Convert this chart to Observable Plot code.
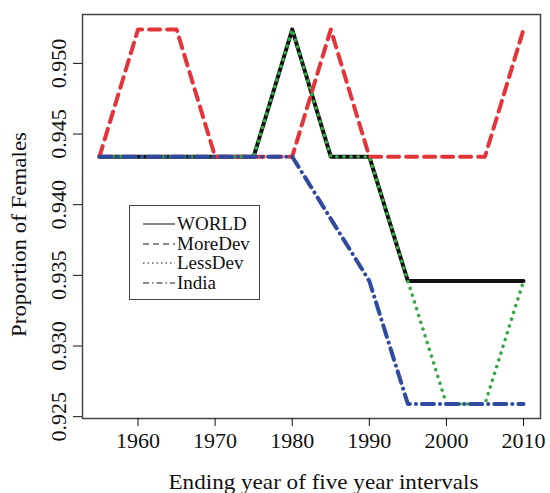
<!DOCTYPE html>
<html>
<head>
<meta charset="utf-8">
<script src="https://cdn.jsdelivr.net/npm/d3@7"></script>
<script src="https://cdn.jsdelivr.net/npm/@observablehq/plot@0.6"></script>
<style>
  html, body { margin: 0; padding: 0; background: #fff; }
  #wrap { position: relative; width: 550px; height: 493px; font-family: "Liberation Serif", "DejaVu Serif", serif; }
  #wrap svg text { font-family: "Liberation Serif", "DejaVu Serif", serif; }
  #legend { position: absolute; left: 129px; top: 205px; width: 131px; height: 95px; border: 1.5px solid #444; box-sizing: border-box; background: #fff; }
  #legend .row { position: absolute; left: 12px; height: 18px; line-height: 18px; display: flex; align-items: center; font-size: 19px; color: #111; }
  #legend svg { margin-right: 2px; }
</style>
</head>
<body>
<div id="wrap"></div>
<script>
const years = [1955, 1960, 1965, 1970, 1975, 1980, 1985, 1990, 1995, 2000, 2005, 2010];
const world   = [0.9434, 0.9434, 0.9434, 0.9434, 0.9434, 0.9524, 0.9434, 0.9434, 0.9346, 0.9346, 0.9346, 0.9346];
const moreDev = [0.9434, 0.9524, 0.9524, 0.9434, 0.9434, 0.9434, 0.9524, 0.9434, 0.9434, 0.9434, 0.9434, 0.9524];
const lessDev = [0.9434, 0.9434, 0.9434, 0.9434, 0.9434, 0.9524, 0.9434, 0.9434, 0.9346, 0.9259, 0.9259, 0.9346];
const india   = [0.9434, 0.9434, 0.9434, 0.9434, 0.9434, 0.9434, 0.9390, 0.9346, 0.9259, 0.9259, 0.9259, 0.9259];
const seriesNames = ["WORLD", "MoreDev", "LessDev", "India"];
const xTicks = [1960, 1970, 1980, 1990, 2000, 2010];
const yTicks = [0.925, 0.930, 0.935, 0.940, 0.945, 0.950];

const toRows = (vals, name) => years.map((yr, i) => ({year: yr, value: vals[i], series: name}));
const dWorld = toRows(world, "WORLD");
const dMore = toRows(moreDev, "MoreDev");
const dLess = toRows(lessDev, "LessDev");
const dIndia = toRows(india, "India");

const font = "Liberation Serif, DejaVu Serif, serif";

const chart = Plot.plot({
  width: 550,
  height: 493,
  marginLeft: 82,
  marginRight: 10,
  marginTop: 14,
  marginBottom: 75,
  style: {fontFamily: font, fontSize: "22px", background: "#fff", color: "#111"},
  x: {domain: [1952.8, 2012.2]},
  y: {domain: [0.92487, 0.95346]},
  marks: [
    Plot.frame({stroke: "#444", strokeWidth: 1.5}),
    Plot.axisX({ticks: xTicks, tickSize: 8, tickPadding: 6, fontSize: 22, tickFormat: d => String(d),
      label: "Ending year of five year intervals", labelAnchor: "center", labelArrow: "none", labelOffset: 70}),
    Plot.axisY({ticks: yTicks, tickSize: 9, tickPadding: 8, fontSize: 22, tickRotate: -90, tickFormat: d => d.toFixed(3),
      label: "Proportion of Females", labelAnchor: "center", labelArrow: "none", labelOffset: 72}),
    Plot.line(dWorld, {x: "year", y: "value", stroke: "#111", strokeWidth: 4}),
    Plot.line(dMore, {x: "year", y: "value", stroke: "#e3343a", strokeWidth: 4, strokeDasharray: "11 7"}),
    Plot.line(dLess, {x: "year", y: "value", stroke: "#35a845", strokeWidth: 3.5, strokeDasharray: "0.1 7", strokeLinecap: "round"}),
    Plot.line(dIndia, {x: "year", y: "value", stroke: "#2f4a9e", strokeWidth: 4, strokeDasharray: "12 6 0.1 6", strokeLinecap: "round"})
  ]
});
document.getElementById("wrap").appendChild(chart);

// nudge axis titles to match reference placement and width
const svg = d3.select(chart);
const xl = svg.select('g[aria-label="x-axis label"]');
xl.attr("transform", (xl.attr("transform") || "") + " translate(12,0)");
xl.selectAll("text").attr("textLength", 310).attr("lengthAdjust", "spacingAndGlyphs");
const yl = svg.select('g[aria-label="y-axis label"]');
yl.attr("transform", (yl.attr("transform") || "") + " translate(0,18)");
yl.selectAll("text").attr("textLength", 205).attr("lengthAdjust", "spacingAndGlyphs");

// legend
const legend = document.createElement("div");
legend.id = "legend";
const dashes = ["", "6 4", "1.5 3", "6 3 1.5 3"];
const rowTops = [9, 28.5, 48, 67.5];
seriesNames.forEach((name, i) => {
  const row = document.createElement("div");
  row.className = "row";
  row.style.top = rowTops[i] + "px";
  row.innerHTML = `<svg width="33" height="10"><line x1="1" y1="5" x2="33" y2="5" stroke="#666" stroke-width="1.6" stroke-dasharray="${dashes[i]}"/></svg><span>${name}</span>`;
  legend.appendChild(row);
});
document.getElementById("wrap").appendChild(legend);
</script>
</body>
</html>
